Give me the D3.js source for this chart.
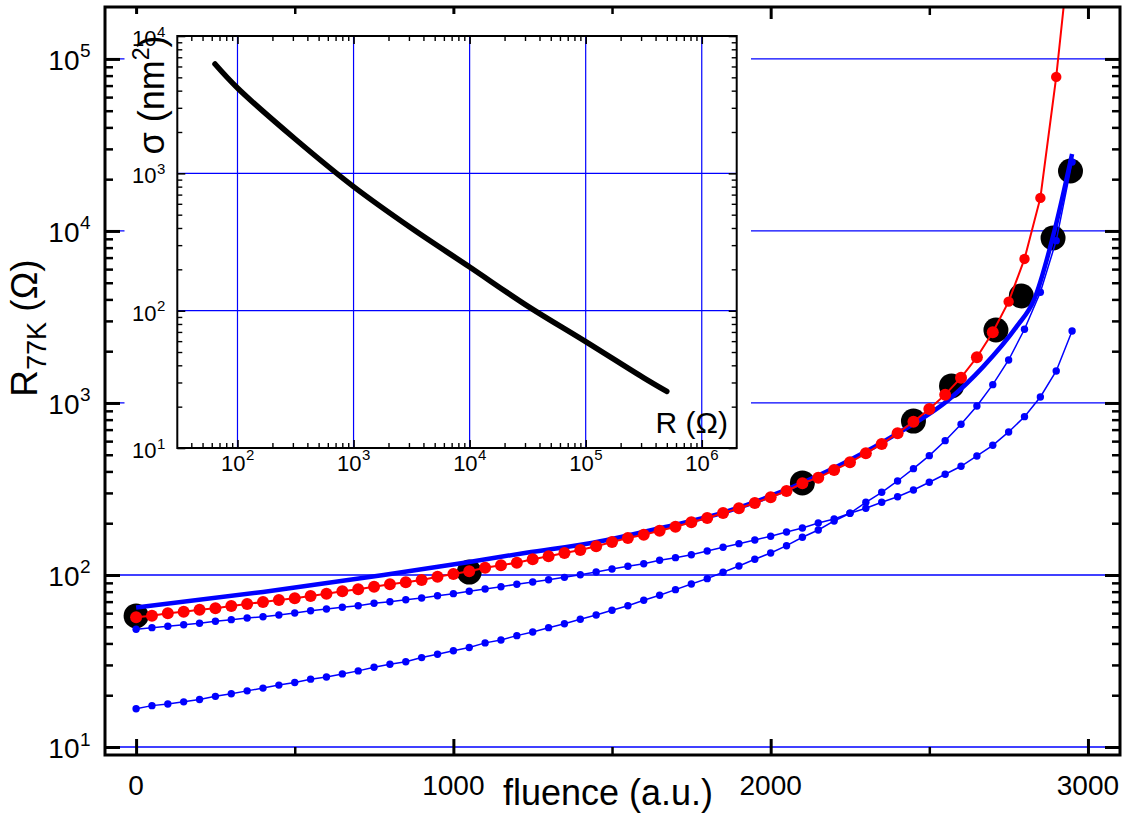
<!DOCTYPE html>
<html>
<head>
<meta charset="utf-8">
<script src="https://cdn.jsdelivr.net/npm/d3@7"></script>
<style>
  body { margin: 0; background: #fff; }
  svg { display: block; font-family: "Liberation Sans", Arial, Helvetica, sans-serif; }
</style>
</head>
<body>
<svg id="chart" width="1127" height="813"></svg>
<script>
// ---- main panel data: R(77K) versus fluence ----
const fluence = [0, 50, 100, 150, 200, 250, 300, 350, 400, 450, 500, 550, 600, 650, 700, 750, 800, 850, 900, 950,
  1000, 1050, 1100, 1150, 1200, 1250, 1300, 1350, 1400, 1450, 1500, 1550, 1600, 1650, 1700, 1750, 1800, 1850, 1900, 1950,
  2000, 2050, 2100, 2150, 2200, 2250, 2300, 2350, 2400, 2450, 2500, 2550, 2600, 2650, 2700, 2750, 2800, 2850, 2900, 2950];

// red model curve (large dots)
const redModel = [56.8, 58.0, 59.9, 61.2, 62.8, 64.0, 66.0, 67.8, 69.7, 71.6, 73.2, 75.5, 77.9, 80.4, 82.6, 85.5, 88.3, 90.7, 93.5, 97.7,
  101.3, 105.1, 110.1, 113.9, 117.9, 123.4, 128.4, 134.3, 139.8, 146.9, 155.6, 164.1, 171.5, 181.0, 190.9, 202.5, 214.5, 229.4, 244.3, 262.2,
  282.9, 307.8, 341.3, 368.0, 407.7, 452.0, 510.1, 577.5, 666.4, 778.6, 922.8, 1118, 1403, 1844, 2576, 3882, 6876, 15560, 78600, 585000];

// thin blue curve starting near 48 Ohm
const blueUpper = [48.4, 49.4, 50.3, 51.4, 52.4, 53.8, 55.0, 56.2, 57.2, 58.5, 60.1, 62.0, 63.4, 64.9, 66.3, 68.5, 69.9, 71.8, 73.5, 75.8,
  77.9, 80.5, 82.9, 85.5, 88.3, 91.0, 93.9, 96.9, 100.4, 104.1, 108.4, 112.4, 116.3, 121.8, 126.1, 131.2, 137.9, 144.9, 152.1, 159.8,
  167.9, 177.8, 187.7, 200.6, 211.6, 228.4, 244.3, 264.7, 285.2, 312.0, 345.9, 385.0, 428.6, 492.0, 567.6, 678.5, 832.4, 1083, 1535, 2622];

// thin blue curve starting near 17 Ohm
const blueLower = [16.7, 17.4, 17.8, 18.3, 18.9, 19.7, 20.4, 21.2, 22.0, 22.9, 23.7, 24.8, 25.5, 26.6, 27.7, 29.1, 30.3, 31.3, 33.1, 34.6,
  36.3, 37.9, 40.3, 41.9, 44.4, 46.6, 49.4, 52.1, 55.3, 58.5, 62.4, 66.3, 71.3, 76.2, 82.2, 88.6, 95.2, 103.7, 112.8, 123.4,
  134.3, 148.0, 165.7, 182.6, 206.1, 228.4, 264.7, 302.6, 352.0, 415.0, 493.9, 603.7, 751.9, 960.7, 1278, 1778, 2683, 4401, 8783, 25190];

// thick blue fit
const fitFluence = [0, 400, 780, 1040, 1230, 1440, 1650, 1860, 2000, 2100, 2250, 2400, 2560, 2670, 2775, 2830, 2895, 2950];
const fitR = [64.7, 79.7, 100, 118.2, 134.8, 154.1, 186.8, 233.4, 288, 344, 466, 666, 1041, 1626, 2777, 3971, 10130, 28040];

// measured points (large black circles)
const measFluence = [0, 1050, 2100, 2450, 2570, 2710, 2790, 2890, 2945];
const measR = [57.8, 104, 343, 785, 1256, 2655, 4190, 9100, 22300];

// axis ticks
const xMajor = [0, 1000, 2000, 3000];
const xMinor = [500, 1500, 2500];
const yDecades = [10, 100, 1000, 10000, 100000];

// ---- inset data: sigma versus R ----
const insetR = [64, 100, 316, 1000, 3162, 10000, 31620, 100000, 316200, 500000];
const insetSigma = [6250, 4180, 1770, 800, 398, 208, 108, 59.5, 32.4, 25.8];
const insetXDecades = [100, 1e3, 1e4, 1e5, 1e6];
const insetYDecades = [10, 100, 1000, 10000];

// ---------------------------------------------------------------
const svg = d3.select("#chart");
const BLUE = "#0000ff";
const M = { l: 105, r: 1120, t: 7, b: 755 };

const x = d3.scaleLinear().domain([-98, 3101]).range([M.l, M.r]);
const y = d3.scaleLog().domain([8.985, 200400]).range([M.b, M.t]);

function minorLog(lo, hi) {
  const out = [];
  for (let e = Math.floor(Math.log10(lo)); e <= Math.ceil(Math.log10(hi)); e++) {
    for (let m = 2; m <= 9; m++) {
      const v = m * Math.pow(10, e);
      if (v > lo * 1.01 && v < hi / 1.01) out.push(v);
    }
  }
  return out;
}

// horizontal grid lines
svg.append("g").selectAll("line").data(yDecades).join("line")
  .attr("x1", M.l).attr("x2", M.r)
  .attr("y1", d => y(d)).attr("y2", d => y(d))
  .attr("stroke", BLUE).attr("stroke-width", 1.3);

// data layer
svg.append("clipPath").attr("id", "plotClip")
  .append("rect").attr("x", M.l).attr("y", M.t).attr("width", M.r - M.l).attr("height", M.b - M.t);
const data = svg.append("g").attr("clip-path", "url(#plotClip)");

data.append("g").selectAll("circle").data(measFluence).join("circle")
  .attr("cx", d => x(d)).attr("cy", (d, i) => y(measR[i])).attr("r", 12.5).attr("fill", "#000");

const line = d3.line().x(d => x(d[0])).y(d => y(d[1]));

function dottedSeries(vals, color, lw, radius) {
  const pts = fluence.map((f, i) => [f, vals[i]]);
  data.append("path").datum(pts).attr("d", line)
    .attr("fill", "none").attr("stroke", color).attr("stroke-width", lw);
  data.append("g").selectAll("circle").data(pts).join("circle")
    .attr("cx", d => x(d[0])).attr("cy", d => y(d[1])).attr("r", radius).attr("fill", color);
}

dottedSeries(blueLower, BLUE, 1.5, () => 3.7);
dottedSeries(blueUpper, BLUE, 1.5, () => 3.7);

const fitPts = fitFluence.map((f, i) => [f, fitR[i]]);
data.append("path").datum(fitPts)
  .attr("d", d3.line().x(d => x(d[0])).y(d => y(d[1])).curve(d3.curveMonotoneX))
  .attr("fill", "none").attr("stroke", BLUE).attr("stroke-width", 4.5);

// red dots are a bit larger along the slowly rising part
dottedSeries(redModel, "#ff0000", 2, d => d[0] <= 2700 ? 6 : 5.2);

// ---- main axes ----
function styleAxis(g, w) {
  g.select(".domain").remove();
  g.selectAll(".tick line").attr("stroke", "#000").attr("stroke-width", w);
}
svg.append("g").attr("transform", `translate(${M.l},0)`)
  .call(d3.axisLeft(y).tickValues(yDecades).tickSize(-15).tickFormat(""))
  .call(g => styleAxis(g, 3));
svg.append("g").attr("transform", `translate(${M.l},0)`)
  .call(d3.axisLeft(y).tickValues(minorLog(8.985, 200400)).tickSize(-8).tickFormat(""))
  .call(g => styleAxis(g, 2.5));
svg.append("g").attr("transform", `translate(${M.r},0)`)
  .call(d3.axisRight(y).tickValues(yDecades).tickSize(-15).tickFormat(""))
  .call(g => styleAxis(g, 3));
svg.append("g").attr("transform", `translate(${M.r},0)`)
  .call(d3.axisRight(y).tickValues(minorLog(8.985, 200400)).tickSize(-8).tickFormat(""))
  .call(g => styleAxis(g, 2.5));
svg.append("g").attr("transform", `translate(0,${M.b})`)
  .call(d3.axisBottom(x).tickValues(xMajor).tickSize(-16).tickFormat(""))
  .call(g => styleAxis(g, 3));
svg.append("g").attr("transform", `translate(0,${M.b})`)
  .call(d3.axisBottom(x).tickValues(xMinor).tickSize(-8).tickFormat(""))
  .call(g => styleAxis(g, 2.5));
svg.append("g").attr("transform", `translate(0,${M.t})`)
  .call(d3.axisTop(x).tickValues(xMajor).tickSize(-12).tickFormat(""))
  .call(g => styleAxis(g, 3));
svg.append("g").attr("transform", `translate(0,${M.t})`)
  .call(d3.axisTop(x).tickValues(xMinor).tickSize(-8).tickFormat(""))
  .call(g => styleAxis(g, 2.5));

svg.append("rect").attr("x", M.l).attr("y", M.t).attr("width", M.r - M.l).attr("height", M.b - M.t)
  .attr("fill", "none").attr("stroke", "#000").attr("stroke-width", 3);

// main tick labels
svg.append("g").selectAll("text").data(xMajor).join("text")
  .attr("x", d => x(d)).attr("y", 795).attr("text-anchor", "middle")
  .attr("font-size", 28).text(d => d);

const yl = svg.append("g").selectAll("g").data(yDecades).join("g");
yl.append("text").attr("x", 79.5).attr("y", d => y(d) + 11).attr("text-anchor", "end")
  .attr("font-size", 28).text("10");
yl.append("text").attr("x", 80).attr("y", d => y(d) - 1.5)
  .attr("font-size", 19).text(d => Math.round(Math.log10(d)));

// axis titles
svg.append("text").attr("x", 608).attr("y", 805).attr("text-anchor", "middle")
  .attr("font-size", 36).text("fluence (a.u.)");

const yTitle = svg.append("text").attr("transform", "translate(37,328) rotate(-90)")
  .attr("text-anchor", "middle").attr("font-size", 37);
yTitle.append("tspan").text("R");
yTitle.append("tspan").attr("font-size", 27).attr("dy", 9).text("77K");
yTitle.append("tspan").attr("dy", -9).text(" (\u03A9)");

// ---- inset ----
const I = { l: 177.3, r: 736.7, t: 36, b: 448 };
const ix = d3.scaleLog().domain([30.3, 2.0e6]).range([I.l, I.r]);
const iy = d3.scaleLog().domain([10, 1e4]).range([I.b, I.t]);

const inset = svg.append("g");
inset.append("rect").attr("x", 124.5).attr("y", 14).attr("width", 626.5).attr("height", 464).attr("fill", "#fff");

inset.append("g").selectAll("line").data(insetXDecades).join("line")
  .attr("x1", d => ix(d)).attr("x2", d => ix(d)).attr("y1", I.t).attr("y2", I.b)
  .attr("stroke", BLUE).attr("stroke-width", 1.2);
inset.append("g").selectAll("line").data(insetYDecades.slice(1, 3)).join("line")
  .attr("x1", I.l).attr("x2", I.r).attr("y1", d => iy(d)).attr("y2", d => iy(d))
  .attr("stroke", BLUE).attr("stroke-width", 1.2);

const insetPts = insetR.map((r, i) => [r, insetSigma[i]]);
inset.append("path").datum(insetPts)
  .attr("d", d3.line().x(d => ix(d[0])).y(d => iy(d[1])).curve(d3.curveCatmullRom))
  .attr("fill", "none").attr("stroke", "#000").attr("stroke-width", 5.5).attr("stroke-linecap", "round");

const ixMinor = minorLog(30.3, 2.0e6);
const iyMinor = minorLog(10, 1e4);
inset.append("g").attr("transform", `translate(0,${I.b})`)
  .call(d3.axisBottom(ix).tickValues(insetXDecades).tickSize(-8).tickFormat("")).call(g => styleAxis(g, 1.6));
inset.append("g").attr("transform", `translate(0,${I.b})`)
  .call(d3.axisBottom(ix).tickValues(ixMinor).tickSize(-5).tickFormat("")).call(g => styleAxis(g, 1.4));
inset.append("g").attr("transform", `translate(0,${I.t})`)
  .call(d3.axisTop(ix).tickValues(insetXDecades).tickSize(-8).tickFormat("")).call(g => styleAxis(g, 1.6));
inset.append("g").attr("transform", `translate(0,${I.t})`)
  .call(d3.axisTop(ix).tickValues(ixMinor).tickSize(-5).tickFormat("")).call(g => styleAxis(g, 1.4));
inset.append("g").attr("transform", `translate(${I.l},0)`)
  .call(d3.axisLeft(iy).tickValues(insetYDecades).tickSize(-8).tickFormat("")).call(g => styleAxis(g, 1.6));
inset.append("g").attr("transform", `translate(${I.l},0)`)
  .call(d3.axisLeft(iy).tickValues(iyMinor).tickSize(-5).tickFormat("")).call(g => styleAxis(g, 1.4));
inset.append("g").attr("transform", `translate(${I.r},0)`)
  .call(d3.axisRight(iy).tickValues(insetYDecades).tickSize(-8).tickFormat("")).call(g => styleAxis(g, 1.6));
inset.append("g").attr("transform", `translate(${I.r},0)`)
  .call(d3.axisRight(iy).tickValues(iyMinor).tickSize(-5).tickFormat("")).call(g => styleAxis(g, 1.4));
inset.append("rect").attr("x", I.l).attr("y", I.t).attr("width", I.r - I.l).attr("height", I.b - I.t)
  .attr("fill", "none").attr("stroke", "#000").attr("stroke-width", 2);

// inset tick labels
const ixl = inset.append("g").selectAll("g").data(insetXDecades).join("g");
ixl.append("text").attr("x", d => ix(d) + 8).attr("y", 471).attr("text-anchor", "end")
  .attr("font-size", 22).text("10");
ixl.append("text").attr("x", d => ix(d) + 8.5).attr("y", 460)
  .attr("font-size", 15).text(d => Math.round(Math.log10(d)));

const iyl = inset.append("g").selectAll("g").data(insetYDecades).join("g");
iyl.append("text").attr("x", 156.5).attr("y", d => iy(d) + 10).attr("text-anchor", "end")
  .attr("font-size", 22).text("10");
iyl.append("text").attr("x", 157).attr("y", d => iy(d) + 0.5)
  .attr("font-size", 15).text(d => Math.round(Math.log10(d)));

// inset titles
const sTitle = inset.append("text").attr("transform", "translate(164,95) rotate(-90)")
  .attr("text-anchor", "middle").attr("font-size", 36);
sTitle.append("tspan").text("\u03C3 (nm");
sTitle.append("tspan").attr("font-size", 23).attr("dy", -15).text("2");
sTitle.append("tspan").attr("dy", 15).text(")");

inset.append("text").attr("x", 728).attr("y", 433).attr("text-anchor", "end")
  .attr("font-size", 30).text("R (\u03A9)");
</script>
</body>
</html>
